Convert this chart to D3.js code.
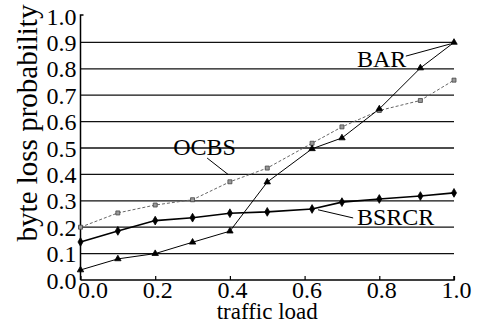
<!DOCTYPE html>
<html>
<head>
<meta charset="utf-8">
<script src="https://cdn.jsdelivr.net/npm/d3@7/dist/d3.min.js"></script>
<style>
  body { margin: 0; background: #fff; }
  svg { display: block; font-family: 'Liberation Serif', 'Times New Roman', serif; }
</style>
</head>
<body>
<div id="chart"></div>
<script>
'use strict';

// traffic load values and byte loss probability per scheme
var loadBAR   = [0.0, 0.1, 0.2, 0.3, 0.4, 0.5, 0.62, 0.7, 0.8, 0.91, 1.0];
var lossBAR   = [0.038, 0.08, 0.10, 0.143, 0.185, 0.371, 0.497, 0.538, 0.648, 0.803, 0.90];
var loadOCBS  = [0.0, 0.1, 0.2, 0.3, 0.4, 0.5, 0.62, 0.7, 0.8, 0.91, 1.0];
var lossOCBS  = [0.20, 0.254, 0.284, 0.304, 0.372, 0.424, 0.518, 0.58, 0.642, 0.68, 0.757];
var loadBSRCR = [0.0, 0.1, 0.2, 0.3, 0.4, 0.5, 0.62, 0.7, 0.8, 0.91, 1.0];
var lossBSRCR = [0.144, 0.186, 0.225, 0.236, 0.253, 0.258, 0.269, 0.295, 0.307, 0.318, 0.33];

var xTicks = [0.0, 0.2, 0.4, 0.6, 0.8, 1.0];
var yTicks = [0.0, 0.1, 0.2, 0.3, 0.4, 0.5, 0.6, 0.7, 0.8, 0.9, 1.0];
var gridValues = [0.1, 0.2, 0.3, 0.4, 0.5, 0.6, 0.7, 0.8, 0.9];

// curve labels: text position, leader start and leader end, in data units
var labelNames = ['BAR', 'OCBS', 'BSRCR'];
var labelPos   = [[0.74, 0.805], [0.248, 0.473], [0.74, 0.208]];
var leaderFrom = [[0.871, 0.848], [0.339, 0.462], [0.73, 0.235]];
var leaderTo   = [[0.99, 0.894], [0.395, 0.40], [0.636, 0.266]];

var width = 480, height = 324;

var svg = d3.select('#chart')
    .append('svg')
        .attr('width', width)
        .attr('height', height)
        .attr('viewBox', '0 0 ' + width + ' ' + height);

var xScale = d3.scaleLinear().domain([0, 1]).range([80.5, 454]);
var yScale = d3.scaleLinear().domain([0, 1]).range([280, 16]);

// horizontal grid lines
svg.append('g')
    .attr('class', 'grid')
    .selectAll('line')
    .data(gridValues)
    .enter().append('line')
        .attr('x1', xScale(0))
        .attr('x2', xScale(1))
        .attr('y1', function(d) { return yScale(d); })
        .attr('y2', function(d) { return yScale(d); })
        .attr('stroke', '#111')
        .attr('stroke-width', 1.3);

// x axis with small upward ticks
var xAxis = d3.axisBottom(xScale)
    .tickValues(xTicks)
    .tickSize(-4)
    .tickPadding(1)
    .tickFormat(d3.format('.1f'));

var gx = svg.append('g')
    .attr('class', 'axis axis--x')
    .attr('transform', 'translate(0,' + yScale(0) + ')')
    .call(xAxis);
gx.select('.domain').attr('stroke', '#000').attr('stroke-width', 1.5).attr('d',
    'M' + xScale(0) + ',0H' + xScale(1) + 'V-4');
gx.selectAll('.tick line').attr('stroke', '#000').attr('stroke-width', 1.2);
gx.selectAll('.tick text')
    .attr('font-size', 24)
    .attr('fill', '#000')
    .attr('font-family', 'Liberation Serif')
    .attr('dx', function(d) { return d === 0 ? 12 : 2; });

// y axis, labels only (grid lines act as ticks)
var yAxis = d3.axisLeft(yScale)
    .tickValues(yTicks)
    .tickSize(0)
    .tickPadding(4)
    .tickFormat(d3.format('.1f'));

var gy = svg.append('g')
    .attr('class', 'axis axis--y')
    .attr('transform', 'translate(' + xScale(0) + ',0)')
    .call(yAxis);
gy.select('.domain').attr('stroke', '#000').attr('stroke-width', 1.5).attr('d',
    'M3,' + (yScale(1) - 1) + 'H0V' + yScale(0));
gy.selectAll('.tick text')
    .attr('font-size', 24)
    .attr('fill', '#000')
    .attr('font-family', 'Liberation Serif')
    .attr('dy', '0.34em');

// axis titles
svg.append('text')
    .attr('x', (xScale(0) + xScale(1)) / 2)
    .attr('y', 319)
    .attr('text-anchor', 'middle')
    .attr('font-size', 23)
    .text('traffic load');

svg.append('text')
    .attr('transform', 'translate(37,' + 123 + ') rotate(-90)')
    .attr('text-anchor', 'middle')
    .attr('font-size', 29)
    .text('byte loss probability');

// series
var series = [
    {name: 'OCBS', load: loadOCBS, loss: lossOCBS, stroke: '#666', width: 1, dash: '3,2',
     symbol: d3.symbolSquare, size: 16, fill: '#999', mstroke: '#444'},
    {name: 'BSRCR', load: loadBSRCR, loss: lossBSRCR, stroke: '#000', width: 1.6, dash: null,
     symbol: d3.symbolDiamond, size: 22, fill: '#000', mstroke: '#000'},
    {name: 'BAR', load: loadBAR, loss: lossBAR, stroke: '#000', width: 1, dash: null,
     symbol: d3.symbolTriangle, size: 18, fill: '#000', mstroke: '#000'}
];

var line = d3.line()
    .x(function(d) { return xScale(d[0]); })
    .y(function(d) { return yScale(d[1]); });

series.forEach(function(s) {
    var pts = d3.zip(s.load, s.loss);
    svg.append('path')
        .datum(pts)
        .attr('fill', 'none')
        .attr('stroke', s.stroke)
        .attr('stroke-width', s.width)
        .attr('stroke-dasharray', s.dash)
        .attr('d', line);
    svg.append('g')
        .selectAll('path')
        .data(pts)
        .enter().append('path')
            .attr('transform', function(d) {
                return 'translate(' + xScale(d[0]) + ',' + yScale(d[1]) + ')';
            })
            .attr('d', d3.symbol().type(s.symbol).size(s.size))
            .attr('fill', s.fill)
            .attr('stroke', s.mstroke)
            .attr('stroke-width', 0.8);
});

// curve labels with leader lines
labelNames.forEach(function(name, i) {
    svg.append('line')
        .attr('x1', xScale(leaderFrom[i][0]))
        .attr('y1', yScale(leaderFrom[i][1]))
        .attr('x2', xScale(leaderTo[i][0]))
        .attr('y2', yScale(leaderTo[i][1]))
        .attr('stroke', '#000')
        .attr('stroke-width', 1);
    svg.append('text')
        .attr('x', xScale(labelPos[i][0]))
        .attr('y', yScale(labelPos[i][1]))
        .attr('font-size', 24)
        .text(name);
});
</script>
</body>
</html>
